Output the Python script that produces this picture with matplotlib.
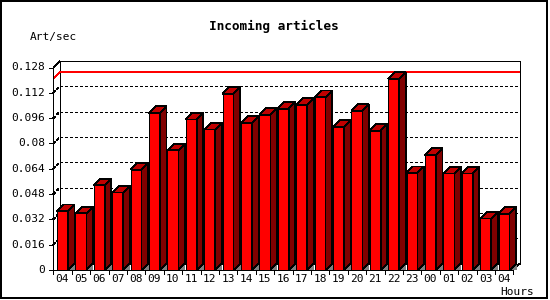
import matplotlib
matplotlib.use('Agg')
import matplotlib.pyplot as plt
from matplotlib.patches import Polygon, Rectangle

# ---- data ----
hours = ['04', '05', '06', '07', '08', '09', '10', '11', '12', '13', '14', '15',
         '16', '17', '18', '19', '20', '21', '22', '23', '00', '01', '02', '03', '04']
values = [0.0372, 0.0359, 0.0536, 0.0490, 0.0635, 0.0994, 0.0757, 0.0952, 0.0889,
          0.1114, 0.0931, 0.0981, 0.1020, 0.1045, 0.1093, 0.0906, 0.1007, 0.0881,
          0.1209, 0.0614, 0.0729, 0.0610, 0.0610, 0.0326, 0.0357]
y_ticks = [0, 0.016, 0.032, 0.048, 0.064, 0.08, 0.096, 0.112, 0.128]
y_tick_labels = ['0', '0.016', '0.032', '0.048', '0.064', '0.08', '0.096', '0.112', '0.128']
title = 'Incoming articles'
y_label = 'Art/sec'
x_label = 'Hours'

# ---- layout ----
W, H = 550, 300
fig = plt.figure(figsize=(W / 100, H / 100), dpi=100)
L, R, B, T = 53.3, 513.3, 270.0, 67.5
ax = fig.add_axes([L / W, 1 - B / H, (R - L) / W, (B - T) / H])
n = len(values)
ymax = y_ticks[-1]
ax.set_xlim(0, n)
ax.set_ylim(0, ymax)
ax.axis('off')

px_x = n / (R - L)          # data units per pixel (x)
px_y = ymax / (B - T)       # data units per pixel (y)
dx = 6.5 * px_x
dy = 6.5 * px_y
LW = 0.5
mono = 'DejaVu Sans Mono'
FS = 8.0
DOT = (0, (2.9, 2.9))

def line(xs, ys, **kw):
    kw.setdefault('color', 'black')
    kw.setdefault('lw', LW)
    kw.setdefault('solid_capstyle', 'butt')
    kw.setdefault('antialiased', False)
    ax.plot(xs, ys, clip_on=False, **kw)

# back plane
line([dx, dx, n + dx, n + dx], [dy, ymax + dy, ymax + dy, dy], zorder=1)
line([dx, n + dx], [dy, dy], zorder=1)
line([0, dx], [ymax, ymax + dy], zorder=1)
line([n, n + dx], [0, dy], zorder=1)

# grid lines (dotted) and diagonal ticks
for v in y_ticks[1:-1]:
    line([dx, n + dx], [v + dy, v + dy], ls=DOT, zorder=1)
    line([0, dx], [v, v + dy], ls=DOT, zorder=1)

# max line in red
vmax = max(values)
line([0, dx, n + dx], [vmax, vmax + dy, vmax + dy], color='#FF0000', zorder=1.5)

# front axes
line([0, n], [0, 0], zorder=6)
line([0, 0], [0, ymax], zorder=6)
for v, lab in zip(y_ticks, y_tick_labels):
    line([-4 * px_x, 0], [v, v], zorder=6)
    ax.text(-8.5 * px_x, v, lab, ha='right', va='center', fontsize=FS,
            family=mono, clip_on=False)
for i in range(n + 1):
    line([i, i], [0, -4 * px_y], zorder=6)
for i, lab in enumerate(hours):
    ax.text(i + 0.5, -9.5 * px_y, lab, ha='center', va='center', fontsize=FS,
            family=mono, clip_on=False)

# bars
bw = 0.6
xc = [i + 0.5 for i in range(n)]
ax.bar(xc, values, width=bw, color='#FF0000', edgecolor='black', linewidth=LW,
       zorder=4, antialiased=False)
for x, v in zip(xc, values):
    xl, xr = x - bw / 2, x + bw / 2
    ax.add_patch(Polygon([(xr, 0), (xr + dx, dy), (xr + dx, 0)], closed=True,
                         facecolor='#808080', edgecolor='none', zorder=3,
                         clip_on=False, antialiased=False))
    ax.add_patch(Polygon([(xr, 0), (xr, v), (xr + dx, v + dy), (xr + dx, dy)], closed=True,
                         facecolor='#800000', edgecolor='black', linewidth=LW,
                         zorder=4, clip_on=False, antialiased=False))
    ax.add_patch(Polygon([(xl, v), (xr, v), (xr + dx, v + dy), (xl + dx, v + dy)], closed=True,
                         facecolor='#C00000', edgecolor='black', linewidth=LW,
                         zorder=4, clip_on=False, antialiased=False))

# texts
fig.text(273.5 / W, 1 - 26.7 / H, title, ha='center', va='center', fontsize=9.2,
         family=mono, fontweight='bold')
fig.text(30 / W, 1 - 36.7 / H, y_label, ha='left', va='center', fontsize=FS, family=mono)
fig.text(534 / W, 1 - 292 / H, x_label, ha='right', va='center', fontsize=FS, family=mono)

# outer frame
fig.patches.append(Rectangle((1 / W, 2 / H), 546 / W, 297 / H, transform=fig.transFigure,
                             fill=False, edgecolor='black', linewidth=1.44,
                             antialiased=False))

fig.savefig('out.png', dpi=100)
